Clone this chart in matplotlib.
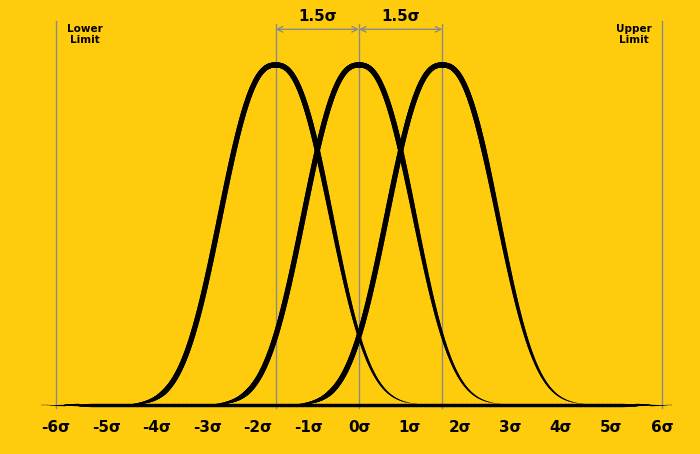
import numpy as np
import matplotlib
matplotlib.use("Agg")
import matplotlib.pyplot as plt
from matplotlib.collections import LineCollection

means = [-1.65, 0.0, 1.65]
tick_values = list(range(-6, 7))
tick_labels = [f"{v}σ" for v in tick_values]
limits = [-6, 6]
limit_labels = ["Lower\nLimit", "Upper\nLimit"]
shift_labels = ["1.5σ", "1.5σ"]

bg = "#FFCC0D"
fig = plt.figure(figsize=(7, 4.54), dpi=100, facecolor=bg)
ax = fig.add_axes([0, 0, 1, 1])
ax.set_facecolor(bg)
ax.set_xlim(-359/50.5, (700-359)/50.5)
ax.set_ylim(-49/340, 405/340)
ax.axis("off")

def tapered(x, y, w):
    pts = np.column_stack([x, y]).reshape(-1, 1, 2)
    segs = np.concatenate([pts[:-1], pts[1:]], axis=1)
    lc = LineCollection(segs, linewidths=w[:-1], colors="black", capstyle="round", zorder=3)
    ax.add_collection(lc)

for xv in limits + means:
    ax.plot([xv, xv], [-0.01, 1.12 if xv in means else 1.13], color="#8a8a8a", lw=1, zorder=1)

xb = np.linspace(-6.3, 6.2, 400)
wb = 2.4 * np.clip(np.minimum((xb+6.3)/1.0, (6.2-xb)/1.0), 0.1, 1)
tapered(xb, np.zeros_like(xb), wb)

for m in means:
    x = np.linspace(m-2.9, m+2.8, 500)
    y = np.exp(-0.5*np.abs((x-m)/1.03)**2.46)
    t = (x-(m-2.9))/5.7
    w = 3.8*np.clip(np.minimum(t/0.12, (1-t)/0.35), 0.05, 1)
    tapered(x, y, w)

yd = 1.105
for a, b, lab in [(means[0], means[1], shift_labels[0]), (means[1], means[2], shift_labels[1])]:
    ax.annotate("", xy=(a, yd), xytext=(b, yd),
                arrowprops=dict(arrowstyle="<->", color="#8a8a8a", lw=1, shrinkA=0, shrinkB=0))
    ax.text((a+b)/2, yd+0.015, lab, ha="center", va="bottom", fontsize=11, fontweight="bold")

ax.text(limits[0]+0.58, 1.12, limit_labels[0], ha="center", va="top", fontsize=7.5, fontweight="bold", linespacing=1.1)
ax.text(limits[1]-0.55, 1.12, limit_labels[1], ha="center", va="top", fontsize=7.5, fontweight="bold", linespacing=1.1)

for v, lab in zip(tick_values, tick_labels):
    ax.text(v, -0.065, lab, ha="center", va="center", fontsize=11, fontweight="bold")

fig.savefig("out.png", dpi=100, facecolor=bg)
